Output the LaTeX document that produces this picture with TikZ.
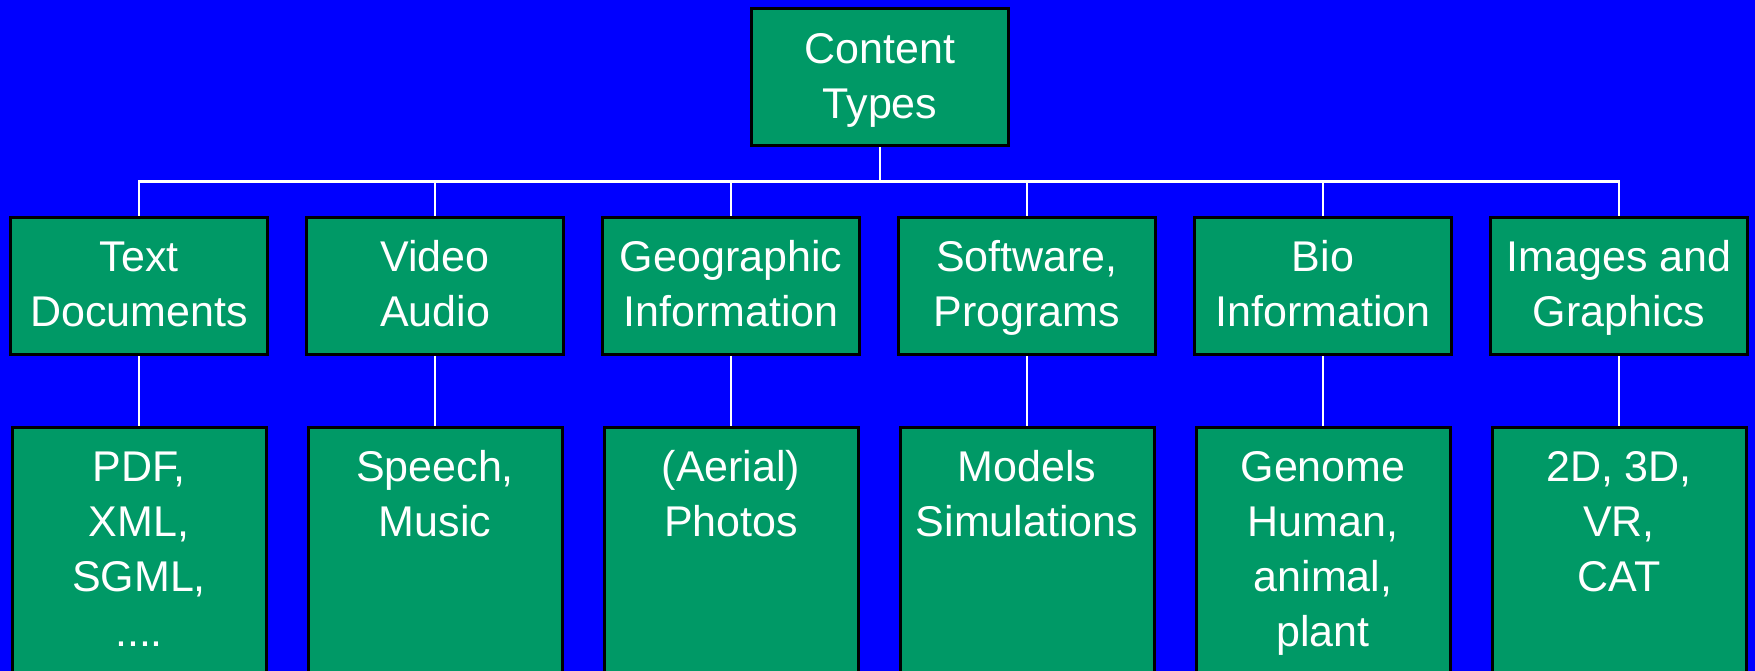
\documentclass[tikz,border=0pt]{standalone}
\usepackage{fontspec}
\setmainfont{Liberation Sans}
\definecolor{bgblue}{RGB}{0,0,255}
\definecolor{boxgreen}{RGB}{0,153,102}
\tikzset{
  box/.style={draw=black, line width=3pt, fill=boxgreen, rectangle, inner sep=0pt, outer sep=0pt, minimum width=257pt},
  midbox/.style={box, minimum height=137pt},
  lowbox/.style={box, minimum width=254pt, minimum height=300pt},
  txt/.style={text=white, anchor=base, inner sep=0pt, font=\fontsize{43}{55}\selectfont},
  conn/.style={draw=white, line width=2.6pt}
}
\newcommand{\lines}[1]{\begin{tabular}[t]{@{}c@{}}#1\end{tabular}}
\begin{document}
\begin{tikzpicture}[x=1pt, y=-1pt]
\fill[bgblue] (0,0) rectangle (1755,671);
\useasboundingbox (0,0) rectangle (1755,671);
\coordinate (bus) at (0,181.7);
% boxes
\node[box, minimum height=136.5pt] (root) at (880,77) {};
\foreach \i/\x in {1/139,2/435,3/731,4/1027,5/1323,6/1619}{
  \node[midbox] (m\i) at (\x,286) {};
  \node[lowbox] (b\i) at (\x,577.5) {};
}
% connectors
\draw[conn] (root.south) -- (root.south |- bus);
\draw[conn] (m1.north) -- (m1.north |- bus) -- (m6.north |- bus) -- (m6.north);
\foreach \i in {2,3,4,5}{\draw[conn] (m\i.north) -- (m\i.north |- bus);}
\foreach \i in {1,...,6}{\draw[conn] (m\i.south) -- (b\i.north);}
% redraw boxes on top of connectors
\node[box, minimum height=136.5pt] at (root) {};
\foreach \i in {1,...,6}{
  \node[midbox] at (m\i) {};
  \node[lowbox] at (b\i) {};
}
% texts
\node[txt] (roott) at (880,63.3) {\lines{Content\\Types}};
\node[txt] (m1t) at (139,271.7) {\lines{Text\\Documents}};
\node[txt] (m2t) at (435,271.7) {\lines{Video\\Audio}};
\node[txt] (m3t) at (731,271.7) {\lines{Geographic\\Information}};
\node[txt] (m4t) at (1027,271.7) {\lines{Software,\\Programs}};
\node[txt] (m5t) at (1323,271.7) {\lines{Bio\\Information}};
\node[txt] (m6t) at (1619,271.7) {\lines{Images and\\Graphics}};
\node[txt] (b1t) at (139,481.7) {\lines{PDF,\\XML,\\SGML,\\....}};
\node[txt] (b2t) at (435,481.7) {\lines{Speech,\\Music}};
\node[txt] (b3t) at (731,481.7) {\lines{(Aerial)\\Photos}};
\node[txt] (b4t) at (1027,481.7) {\lines{Models\\Simulations}};
\node[txt] (b5t) at (1323,481.7) {\lines{Genome\\Human,\\animal,\\plant}};
\node[txt] (b6t) at (1619,481.7) {\lines{2D, 3D,\\VR,\\CAT}};
\end{tikzpicture}
\end{document}
